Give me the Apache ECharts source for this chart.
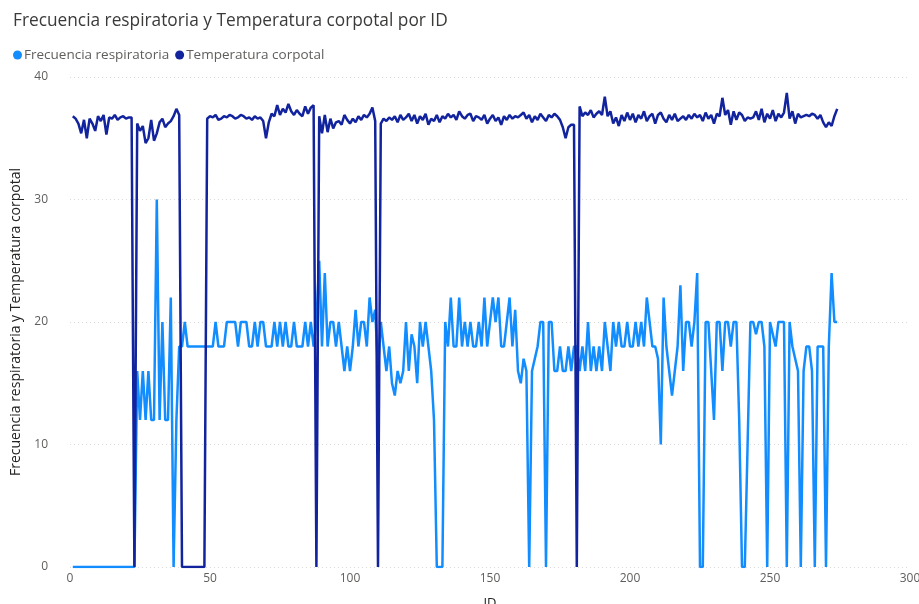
<!DOCTYPE html>
<html>
<head>
<meta charset="utf-8">
<script src="https://cdn.jsdelivr.net/npm/echarts@6/dist/echarts.min.js"></script>
<style>html,body{margin:0;padding:0;background:#fff;}#c{width:919px;height:604px;}</style>
</head>
<body>
<div id="c"></div>
<script>
const titleText = 'Frecuencia respiratoria y Temperatura corpotal por ID';
const seriesNames = ['Frecuencia respiratoria', 'Temperatura corpotal'];
const yTicks = [0, 10, 20, 30, 40];
const xTicks = [0, 50, 100, 150, 200, 250, 300];

const frecuencia = [
  0,0,0,0,0,0,0,0,0,0,
  0,0,0,0,0,0,0,0,0,0,
  0,0,0,16,12,16,12,16,12,12,
  30,12,20,12,12,22,0,12,18,18,
  20,18,18,18,18,18,18,18,18,18,
  18,20,18,18,18,20,20,20,20,18,
  20,20,20,18,18,20,18,20,20,18,
  18,18,20,18,20,18,20,18,18,20,
  18,18,18,20,18,20,18,20,25,18,
  24,18,20,20,18,20,18,16,18,16,
  18,21,18,20,20,18,22,20,21,16,
  20,18,16,18,15,14,16,15,16,20,
  16,19,18,15,20,18,20,18,16,12,
  0,0,0,20,18,22,18,18,22,18,
  20,18,20,18,18,20,18,22,18,20,
  22,20,22,18,18,20,22,18,21,16,
  15,17,16,0,16,17,18,20,20,0,
  20,20,16,16,18,16,16,18,16,18,
  18,16,18,16,20,16,18,16,18,16,
  20,18,16,20,18,20,18,18,20,18,
  18,20,18,20,18,22,20,18,18,17,
  10,22,18,16,14,16,18,23,16,20,
  20,18,20,24,0,0,20,20,16,12,
  20,20,16,20,20,18,20,20,12,0,
  0,10,20,20,19,20,20,18,0,20,
  19,18,20,20,20,0,20,18,17,16,
  0,16,18,18,16,0,18,18,18,0,
  18,24,20,20
];

const temperatura = [
  36.8,36.6,36.2,35.4,36.5,35.0,36.6,36.2,35.6,36.8,
  36.4,36.9,35.3,36.7,36.6,36.9,36.5,36.7,36.8,36.6,
  36.7,36.7,0,36.2,35.6,36.0,34.6,35.0,36.5,34.8,
  35.4,36.3,36.6,35.9,36.2,36.4,36.8,37.4,36.9,0,
  0,0,0,0,0,0,0,0,36.6,36.8,
  36.7,36.9,36.5,36.6,36.8,36.7,36.9,36.8,36.6,36.7,
  36.9,36.8,36.6,36.7,36.5,36.8,36.6,36.7,36.4,35.0,
  36.3,37.0,36.8,37.7,36.9,37.4,37.1,37.8,37.2,36.9,
  37.3,37.0,36.8,37.6,37.0,37.5,37.7,0,36.8,35.4,
  36.9,35.5,36.6,35.8,36.3,36.4,36.1,36.9,36.5,36.2,
  36.6,36.3,36.8,36.5,36.9,36.7,37.0,37.5,36.4,0,
  36.2,36.6,36.4,36.7,36.5,36.8,36.3,36.9,36.5,36.7,
  37.0,36.4,36.9,36.2,36.8,36.5,37.0,36.1,36.6,36.4,
  36.9,36.3,36.8,36.6,37.0,36.7,36.9,36.5,37.2,36.8,
  36.6,36.9,37.0,36.4,36.8,36.7,36.5,36.9,36.2,36.6,
  36.9,36.4,36.7,36.1,36.8,36.5,36.9,36.6,36.8,36.7,
  36.9,37.1,36.6,36.9,36.3,36.8,36.5,37.0,36.7,36.4,
  36.9,36.7,37.0,36.8,36.5,35.9,35.0,35.9,36.1,36.1,
  0,37.6,36.8,37.1,36.9,37.3,36.7,37.0,37.2,36.9,
  38.4,36.8,37.2,36.2,36.7,36.0,36.9,36.4,37.1,36.5,
  37.0,36.3,36.9,36.6,37.2,36.4,36.8,37.0,36.2,36.9,
  37.1,36.6,36.3,36.9,36.5,37.0,36.4,36.6,36.8,36.5,
  36.9,36.6,37.0,36.7,36.9,36.4,37.1,36.6,36.9,36.2,
  37.0,36.8,38.3,36.9,37.3,36.1,37.2,36.5,37.1,36.9,
  36.4,36.7,36.6,36.7,37.2,36.5,37.4,36.3,37.0,36.6,
  37.3,36.4,37.0,36.7,37.1,38.7,36.6,37.2,36.2,37.0,
  36.7,36.8,36.9,36.8,37.0,36.9,36.6,36.9,36.3,35.9,
  36.3,36.0,36.8,37.4
];

const ids = frecuencia.map((_, i) => i + 1);

const chart = echarts.init(document.getElementById('c'), null, {renderer: 'canvas'});
const font = '"Open Sans", "DejaVu Sans", sans-serif';
chart.setOption({
  animation: false,
  textStyle: {fontFamily: font},
  color: ['#118DFF', '#12239E'],
  title: {
    text: titleText, left: 8, top: 8,
    textStyle: {fontSize: 17.3, fontWeight: 'normal', color: '#3b3a39', fontFamily: font}
  },
  legend: {
    left: 8, top: 43, icon: 'circle', itemWidth: 9, itemHeight: 9, itemGap: 6,
    data: seriesNames,
    textStyle: {fontSize: 13.5, color: '#605E5C', padding: [0, 0, 0, -3]}
  },
  grid: {left: 70, right: 9, top: 77, bottom: 37, containLabel: false, outerBoundsMode: 'none'},
  xAxis: {
    type: 'value', min: xTicks[0], max: xTicks[xTicks.length - 1], interval: 50,
    name: 'ID', nameLocation: 'middle', nameGap: 30,
    nameTextStyle: {fontSize: 13, color: '#252423'},
    axisLine: {show: false}, axisTick: {show: false},
    axisLabel: {fontSize: 12, color: '#605E5C', margin: 6},
    splitLine: {show: false}
  },
  yAxis: {
    type: 'value', min: yTicks[0], max: yTicks[yTicks.length - 1], interval: 10,
    name: 'Frecuencia respiratoria y Temperatura corpotal', nameLocation: 'middle', nameGap: 47,
    nameTextStyle: {fontSize: 14, color: '#252423'},
    axisLine: {show: false}, axisTick: {show: false},
    axisLabel: {fontSize: 12, color: '#605E5C', margin: 22},
    splitLine: {show: true, lineStyle: {color: '#D9D9D9', type: [1, 3], width: 1}}
  },
  series: [
    {
      name: seriesNames[0], type: 'line', symbol: 'none',
      lineStyle: {width: 2.5, color: '#118DFF'},
      data: ids.map((id, i) => [id, frecuencia[i]]), z: 2
    },
    {
      name: seriesNames[1], type: 'line', symbol: 'none',
      lineStyle: {width: 2.5, color: '#12239E'},
      data: ids.map((id, i) => [id, temperatura[i]]), z: 3
    }
  ]
});
</script>
</body>
</html>
